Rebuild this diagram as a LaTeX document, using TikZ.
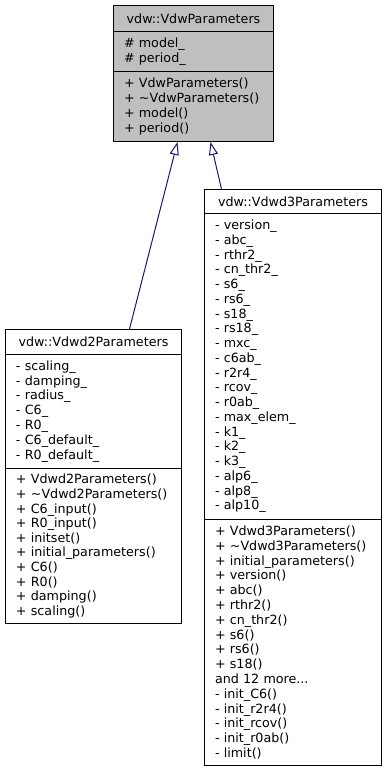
\documentclass[tikz,border=0pt]{standalone}
\usepackage{fontspec}
\setmainfont{DejaVu Sans}
\usetikzlibrary{arrows.meta}
\definecolor{classfill}{HTML}{BFBFBF}
\definecolor{edgeblue}{HTML}{191970}
\begin{document}
\begin{tikzpicture}[x=1pt,y=-1pt,
  box/.style={draw=black, line width=1pt, inner sep=0pt, anchor=north west,
              font=\fontsize{12.7}{15}\selectfont},
  classtitle/.style={box, align=center},
  members/.style={box, align=left, inner xsep=10.5pt},
  inherit/.style={draw=edgeblue, line width=1pt,
                  -{Triangle[open, length=13pt, width=9pt, fill=white]}}]
\useasboundingbox (0,0) rectangle (387,771);

% base class
\node[classtitle, fill=classfill, minimum width=160pt, minimum height=26pt]
  (base-t) at (113,5) {vdw::VdwParameters};
\node[members, fill=classfill, text width=139pt, minimum height=40pt,
      font=\fontsize{12.7}{15}\selectfont]
  (base-a) at (113,31) {\# model\_\\\# period\_};
\node[members, fill=classfill, text width=139pt, minimum height=70pt,
      font=\fontsize{12.7}{15}\selectfont]
  (base-m) at (113,71) {+ VdwParameters()\\+ \textasciitilde VdwParameters()\\+ model()\\+ period()};

% Vdwd2Parameters
\node[classtitle, fill=white, minimum width=176pt, minimum height=25pt]
  (d2-t) at (5,329) {vdw::Vdwd2Parameters};
\node[members, fill=white, text width=155pt, minimum height=114pt,
      font=\fontsize{12.7}{14.9}\selectfont]
  (d2-a) at (5,354) {- scaling\_\\- damping\_\\- radius\_\\- C6\_\\- R0\_\\- C6\_default\_\\- R0\_default\_};
\node[members, fill=white, text width=155pt, minimum height=155pt,
      font=\fontsize{12.7}{14.6}\selectfont]
  (d2-m) at (5,468) {+ Vdwd2Parameters()\\+ \textasciitilde Vdwd2Parameters()\\+ C6\_input()\\+ R0\_input()\\+ initset()\\+ initial\_parameters()\\+ C6()\\+ R0()\\+ damping()\\+ scaling()};

% Vdwd3Parameters
\node[classtitle, fill=white, minimum width=177pt, minimum height=24pt]
  (d3-t) at (204,189) {vdw::Vdwd3Parameters};
\node[members, fill=white, text width=156pt, minimum height=306pt,
      font=\fontsize{12.7}{14.75}\selectfont]
  (d3-a) at (204,213) {- version\_\\- abc\_\\- rthr2\_\\- cn\_thr2\_\\- s6\_\\- rs6\_\\- s18\_\\- rs18\_\\- mxc\_\\- c6ab\_\\- r2r4\_\\- rcov\_\\- r0ab\_\\- max\_elem\_\\- k1\_\\- k2\_\\- k3\_\\- alp6\_\\- alp8\_\\- alp10\_};
\node[members, fill=white, text width=156pt, minimum height=246pt,
      font=\fontsize{12.7}{14.8}\selectfont]
  (d3-m) at (204,519) {+ Vdwd3Parameters()\\+ \textasciitilde Vdwd3Parameters()\\+ initial\_parameters()\\+ version()\\+ abc()\\+ rthr2()\\+ cn\_thr2()\\+ s6()\\+ rs6()\\+ s18()\\and 12 more...\\- init\_C6()\\- init\_r2r4()\\- init\_rcov()\\- init\_r0ab()\\- limit()};

% inheritance edges
\draw[inherit] ([xshift=36pt]d2-t.north) -- ([xshift=-16pt]base-m.south);
\draw[inherit] ([xshift=-71.5pt]d3-t.north) -- ([xshift=17pt]base-m.south);
\end{tikzpicture}
\end{document}
